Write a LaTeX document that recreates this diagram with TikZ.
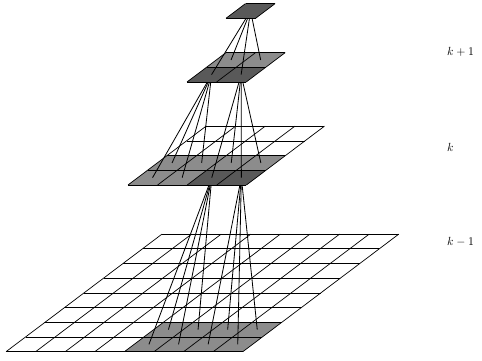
\documentclass[tikz,border=0pt]{standalone}
\usetikzlibrary{calc}
\definecolor{lightcell}{gray}{0.55}
\definecolor{darkcell}{gray}{0.35}
\tikzset{
  gridline/.style={black,line width=0.6pt},
  fanline/.style={black,line width=0.7pt},
  levellabel/.style={anchor=west,inner sep=0pt,font=\normalsize},
}
% grid: x0,y0,ncol,nrow
\newcommand\mygrid[4]{%
  \foreach \j in {0,...,#4}
    \draw[gridline] ({#1+19.5*\j},{#2-14.7*\j}) -- ({#1+29.6*#3+19.5*\j},{#2-14.7*\j});
  \foreach \i in {0,...,#3}
    \draw[gridline] ({#1+29.6*\i},{#2}) -- ({#1+29.6*\i+19.5*#4},{#2-14.7*#4});
}
% cell fill: x0,y0,i,j,colour
\newcommand\mycell[5]{%
  \fill[#5] ({#1+29.6*#3+19.5*#4},{#2-14.7*#4}) -- ++(29.6,0) -- ++(19.5,-14.7) -- ++(-29.6,0) -- cycle;}
% whole-grid white fill: x0,y0,ncol,nrow
\newcommand\myblank[4]{%
  \fill[white] ({#1},{#2}) -- ++({29.6*#3},0) -- ++({19.5*#4},{-14.7*#4}) -- ++({-29.6*#3},0) -- cycle;}
% centres: name,x0,y0,ncol,nrow
\newcommand\mycentres[5]{%
  \foreach \i in {1,...,#4}{\foreach \j in {1,...,#5}{%
    \coordinate (#1-\i-\j) at ({#2+29.6*(\i-0.5)+19.5*(\j-0.5)},{#3-14.7*(\j-0.5)});}}}
\begin{document}
\begin{tikzpicture}[x=0.85pt,y=-0.85pt]
\useasboundingbox (0,0) rectangle (482,360);
% centres of all levels
\mycentres{A}{6}{351.7}{8}{8}
\mycentres{B}{128}{185}{4}{4}
\mycentres{C}{187}{82}{2}{2}
\mycentres{D}{226}{18.3}{1}{1}
% level k-1
\foreach \i in {4,...,7}{\foreach \j in {0,1}{\mycell{6}{351.7}{\i}{\j}{lightcell}}}
\mygrid{6}{351.7}{8}{8}
% fans k -> k-1
\foreach \a in {5,6}{\foreach \b in {1,2}{\draw[fanline] (B-3-1) -- (A-\a-\b);}}
\foreach \a in {7,8}{\foreach \b in {1,2}{\draw[fanline] (B-4-1) -- (A-\a-\b);}}
% level k
\myblank{128}{185}{4}{4}
\foreach \i in {0,...,3}{\foreach \j in {0,1}{\mycell{128}{185}{\i}{\j}{lightcell}}}
\mycell{128}{185}{2}{0}{darkcell}
\mycell{128}{185}{3}{0}{darkcell}
\mygrid{128}{185}{4}{4}
% fans k+1 -> k
\foreach \a in {1,2}{\foreach \b in {1,2}{\draw[fanline] (C-1-1) -- (B-\a-\b);}}
\foreach \a in {3,4}{\foreach \b in {1,2}{\draw[fanline] (C-2-1) -- (B-\a-\b);}}
% level k+1
\myblank{187}{82}{2}{2}
\mycell{187}{82}{0}{1}{lightcell}
\mycell{187}{82}{1}{1}{lightcell}
\mycell{187}{82}{0}{0}{darkcell}
\mycell{187}{82}{1}{0}{darkcell}
\mygrid{187}{82}{2}{2}
% fan top -> k+1
\foreach \a in {1,2}{\foreach \b in {1,2}{\draw[fanline] (D-1-1) -- (C-\a-\b);}}
% top cell
\mycell{226}{18.3}{0}{0}{darkcell}
\mygrid{226}{18.3}{1}{1}
% labels
\node[levellabel] (lab1) at (447,52) {$k+1$};
\node[levellabel] (lab2) at (447,147) {$k$};
\node[levellabel] (lab3) at (447,242) {$k-1$};
\end{tikzpicture}
\end{document}
